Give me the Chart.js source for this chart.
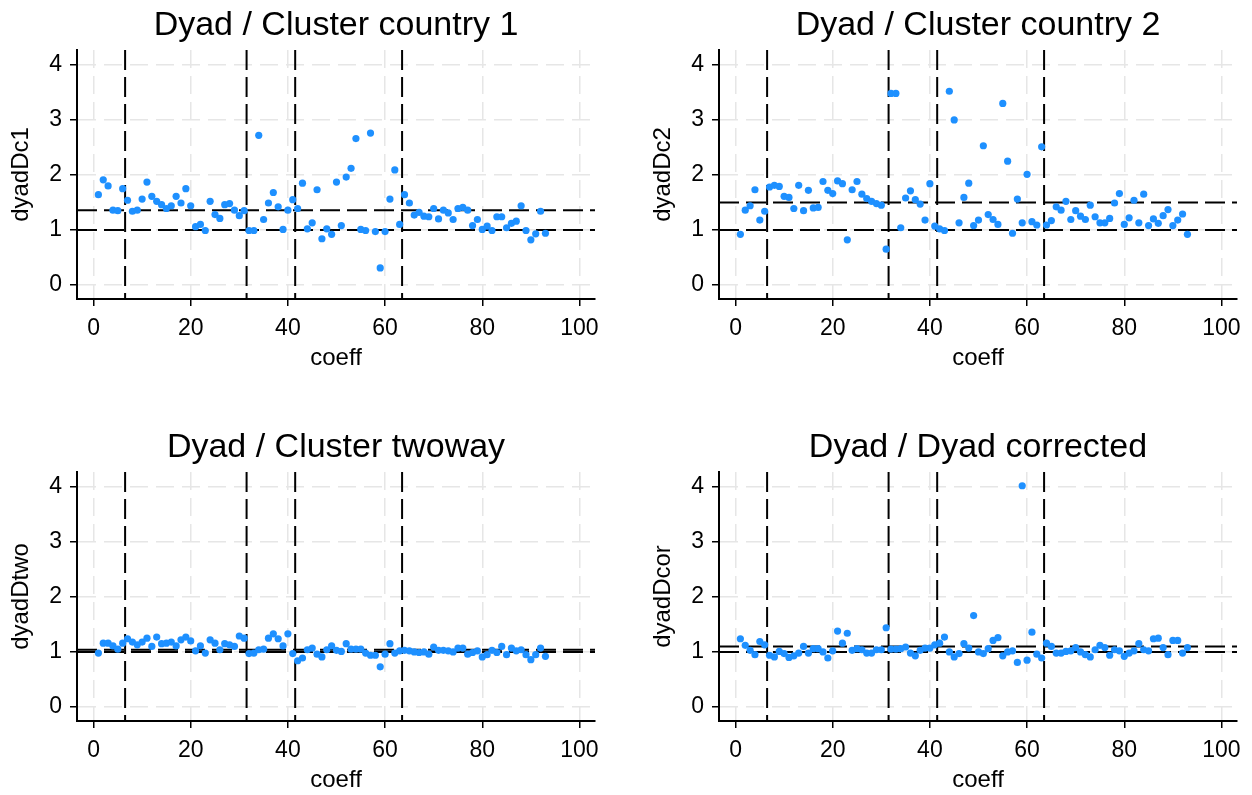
<!DOCTYPE html>
<html>
<head>
<meta charset="utf-8">
<script src="https://cdn.jsdelivr.net/npm/chart.js@4.4.1/dist/chart.umd.min.js"></script>
<style>
    html, body { margin: 0; padding: 0; background: #fff; overflow: hidden; }
    .panel { position: absolute; }
</style>
</head>
<body>
<canvas id="c1" class="panel" width="626" height="373" style="left:0px;top:0px"></canvas>
<canvas id="c2" class="panel" width="626" height="373" style="left:642px;top:0px"></canvas>
<canvas id="c3" class="panel" width="626" height="373" style="left:0px;top:422px"></canvas>
<canvas id="c4" class="panel" width="626" height="373" style="left:642px;top:422px"></canvas>
<script>
// coefficient index (x axis)
const coeff = [1, 2, 3, 4, 5, 6, 7, 8, 9, 10, 11, 12, 13, 14, 15, 16, 17, 18, 19, 20,
    21, 22, 23, 24, 25, 26, 27, 28, 29, 30, 31, 32, 33, 34, 35, 36, 37, 38, 39, 40,
    41, 42, 43, 44, 45, 46, 47, 48, 49, 50, 51, 52, 53, 54, 55, 56, 57, 58, 59, 60,
    61, 62, 63, 64, 65, 66, 67, 68, 69, 70, 71, 72, 73, 74, 75, 76, 77, 78, 79, 80,
    81, 82, 83, 84, 85, 86, 87, 88, 89, 90, 91, 92, 93];

const dyadDc1 = [1.64, 1.91, 1.80, 1.36, 1.35, 1.75, 1.54, 1.34, 1.36, 1.56,
    1.87, 1.61, 1.52, 1.46, 1.39, 1.44, 1.61, 1.49, 1.75, 1.44,
    1.06, 1.10, 0.99, 1.52, 1.28, 1.21, 1.46, 1.48, 1.36, 1.26,
    1.35, 0.99, 0.99, 2.72, 1.19, 1.49, 1.68, 1.42, 1.01, 1.36,
    1.55, 1.39, 1.85, 1.02, 1.13, 1.73, 0.84, 1.02, 0.92, 1.87,
    1.08, 1.96, 2.12, 2.66, 1.01, 0.99, 2.76, 0.97, 0.31, 0.97,
    1.56, 2.09, 1.10, 1.64, 1.49, 1.27, 1.32, 1.25, 1.24, 1.39,
    1.20, 1.36, 1.31, 1.19, 1.39, 1.41, 1.36, 1.08, 1.19, 1.01,
    1.07, 0.99, 1.24, 1.24, 1.04, 1.12, 1.16, 1.44, 0.99, 0.82,
    0.93, 1.34, 0.94];

const dyadDc2 = [0.92, 1.36, 1.44, 1.73, 1.18, 1.34, 1.78, 1.81, 1.79, 1.61,
    1.59, 1.39, 1.81, 1.35, 1.72, 1.40, 1.41, 1.88, 1.72, 1.66,
    1.89, 1.84, 0.82, 1.73, 1.88, 1.65, 1.57, 1.52, 1.48, 1.45,
    0.65, 3.48, 3.48, 1.04, 1.58, 1.71, 1.55, 1.47, 1.18, 1.84,
    1.07, 1.02, 0.99, 3.52, 3.00, 1.13, 1.59, 1.85, 1.08, 1.18,
    2.53, 1.28, 1.19, 1.10, 3.30, 2.25, 0.94, 1.56, 1.13, 2.01,
    1.15, 1.09, 2.51, 1.09, 1.17, 1.42, 1.36, 1.52, 1.19, 1.35,
    1.25, 1.19, 1.45, 1.24, 1.13, 1.13, 1.21, 1.49, 1.66, 1.10,
    1.22, 1.54, 1.13, 1.65, 1.08, 1.20, 1.12, 1.26, 1.37, 1.08,
    1.18, 1.29, 0.92];

const dyadDtwo = [0.98, 1.16, 1.16, 1.11, 1.05, 1.16, 1.24, 1.18, 1.13, 1.18,
    1.25, 1.10, 1.27, 1.15, 1.16, 1.18, 1.11, 1.22, 1.27, 1.20,
    1.02, 1.11, 0.98, 1.22, 1.16, 1.04, 1.15, 1.13, 1.10, 1.29,
    1.25, 0.97, 0.98, 1.04, 1.05, 1.25, 1.33, 1.24, 1.11, 1.33,
    0.97, 0.84, 0.89, 1.04, 1.07, 0.96, 0.91, 1.04, 1.11, 1.03,
    1.01, 1.15, 1.05, 1.05, 1.05, 0.98, 0.94, 0.94, 0.73, 0.96,
    1.15, 0.98, 1.02, 1.03, 1.02, 1.00, 0.99, 1.00, 0.96, 1.09,
    1.03, 1.03, 1.02, 1.00, 1.07, 1.07, 0.96, 0.99, 1.02, 0.91,
    0.95, 1.03, 0.99, 1.10, 0.95, 1.07, 1.02, 1.04, 0.95, 0.86,
    0.95, 1.07, 0.92];

const dyadDcor = [1.24, 1.12, 1.03, 0.95, 1.19, 1.13, 0.94, 0.91, 1.01, 0.97,
    0.90, 0.93, 0.98, 1.10, 0.98, 1.06, 1.06, 1.00, 0.89, 1.02,
    1.38, 1.16, 1.34, 1.03, 1.06, 1.04, 0.98, 0.98, 1.04, 1.04,
    1.44, 1.05, 1.05, 1.06, 1.09, 0.98, 0.93, 1.03, 1.07, 1.07,
    1.13, 1.16, 1.27, 1.00, 0.91, 0.97, 1.15, 1.07, 1.66, 1.00,
    0.97, 1.06, 1.21, 1.26, 0.93, 1.00, 1.02, 0.81, 4.02, 0.85,
    1.36, 0.96, 0.89, 1.16, 1.10, 0.98, 0.98, 1.01, 1.02, 1.08,
    1.00, 0.95, 0.91, 1.04, 1.12, 1.08, 0.94, 1.04, 1.02, 0.92,
    0.98, 1.02, 1.15, 1.04, 1.02, 1.24, 1.25, 1.08, 0.95, 1.21,
    1.21, 0.98, 1.08];

// tick labels
const xTicks = [0, 20, 40, 60, 80, 100];
const yTicks = [0, 1, 2, 3, 4];

// dashed reference lines
const xLines = [6.5, 31.5, 41.5, 63.5];
const yLinesDc1 = [1, 1.36];
const yLinesDc2 = [1, 1.5];
const yLinesTwo = [1, 1.04];
const yLinesCor = [1, 1.1];

Chart.defaults.font.family = "'Liberation Sans', Arial, Helvetica, sans-serif";
Chart.defaults.color = '#000';

//to draw the dashed xline / yline under the markers
const refLines = {
    id: 'refLines',
    beforeDatasetsDraw(chart, args, opts) {
        const { ctx, chartArea, scales } = chart;
        ctx.save();
        ctx.strokeStyle = '#000';
        ctx.lineWidth = 2;
        ctx.setLineDash([20, 7]);
        opts.xs.forEach(v => {
            const px = scales.x.getPixelForValue(v);
            ctx.beginPath();
            ctx.moveTo(px, chartArea.top);
            ctx.lineTo(px, chartArea.bottom);
            ctx.stroke();
        });
        opts.ys.forEach(v => {
            const py = scales.y.getPixelForValue(v);
            ctx.beginPath();
            ctx.moveTo(chartArea.left, py);
            ctx.lineTo(chartArea.right, py);
            ctx.stroke();
        });
        ctx.restore();
    }
};

const gridStyle = { color: '#e6e6e6', lineWidth: 1.5, tickColor: '#000', tickLength: 7, tickWidth: 1.5 };
const borderStyle = { color: '#000', width: 2, dash: [18, 8] };

function makePanel(id, title, yLabel, values, yLines) {
    const points = coeff.map((c, i) => ({ x: c, y: values[i] }));
    return new Chart(document.getElementById(id), {
        type: 'scatter',
        data: {
            datasets: [{
                data: points,
                backgroundColor: '#1e90ff',
                borderWidth: 0,
                pointRadius: 3.6,
                pointHoverRadius: 3.6
            }]
        },
        plugins: [refLines],
        options: {
            responsive: false,
            animation: false,
            layout: { padding: { left: 0, right: 31, top: 0, bottom: 0 } },
            plugins: {
                legend: { display: false },
                tooltip: { enabled: false },
                title: {
                    display: true,
                    text: title,
                    fullSize: false,
                    color: '#000',
                    font: { size: 34, weight: 'normal' },
                    padding: { top: 5.1, bottom: 4.1 }
                },
                refLines: { xs: xLines, ys: yLines }
            },
            scales: {
                x: {
                    type: 'linear',
                    min: -3.4,
                    max: 103.2,
                    afterBuildTicks: s => { s.ticks = xTicks.map(v => ({ value: v })); },
                    afterFit: s => { s.height = 74; },
                    grid: gridStyle,
                    border: borderStyle,
                    ticks: { color: '#000', font: { size: 23 }, padding: 9, maxRotation: 0, autoSkip: false },
                    title: { display: true, text: 'coeff', color: '#000', font: { size: 24 }, padding: { top: 0, bottom: 0 } }
                },
                y: {
                    type: 'linear',
                    min: -0.255,
                    max: 4.27,
                    afterBuildTicks: s => { s.ticks = yTicks.map(v => ({ value: v })); },
                    afterFit: s => { s.width = 77; },
                    grid: gridStyle,
                    border: borderStyle,
                    ticks: { color: '#000', font: { size: 23 }, padding: 8, autoSkip: false },
                    title: { display: true, text: yLabel, color: '#000', font: { size: 24 }, padding: { top: 6.6, bottom: 0 } }
                }
            }
        }
    });
}

makePanel('c1', 'Dyad / Cluster country 1', 'dyadDc1', dyadDc1, yLinesDc1);
makePanel('c2', 'Dyad / Cluster country 2', 'dyadDc2', dyadDc2, yLinesDc2);
makePanel('c3', 'Dyad / Cluster twoway', 'dyadDtwo', dyadDtwo, yLinesTwo);
makePanel('c4', 'Dyad / Dyad corrected', 'dyadDcor', dyadDcor, yLinesCor);
</script>
</body>
</html>
